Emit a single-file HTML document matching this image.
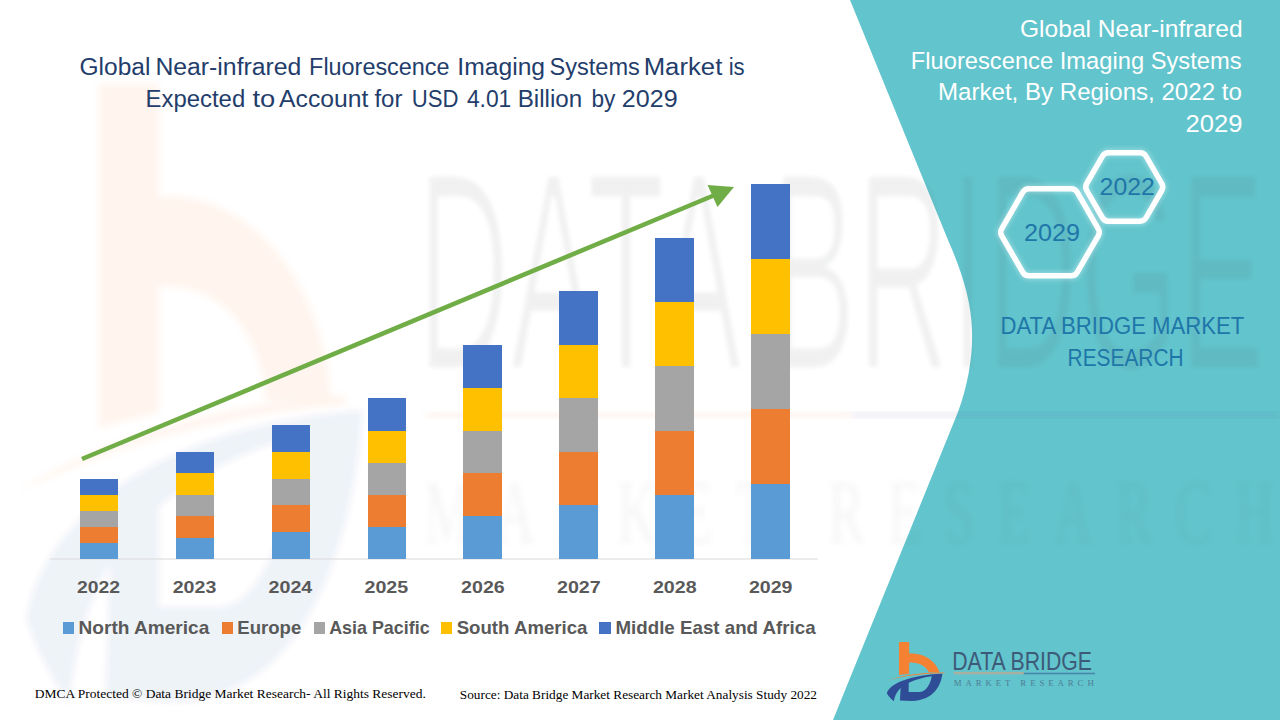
<!DOCTYPE html>
<html>
<head>
<meta charset="utf-8">
<title>Global Near-infrared Fluorescence Imaging Systems Market</title>
<style>
html,body{margin:0;padding:0;background:#fff;}
body{width:1280px;height:720px;overflow:hidden;position:relative;font-family:"Liberation Sans",sans-serif;}
svg{position:absolute;left:0;top:0;display:block;}
text{font-family:"Liberation Sans",sans-serif;}
.serif{font-family:"Liberation Serif",serif;}
.b{font-weight:bold;}
</style>
</head>
<body>
<svg width="1280" height="720" viewBox="0 0 1280 720">
  <defs>
    <filter id="blur6" x="-10%" y="-10%" width="120%" height="120%"><feGaussianBlur stdDeviation="5"/></filter>
    <filter id="blur2" x="-5%" y="-5%" width="110%" height="110%"><feGaussianBlur stdDeviation="2"/></filter>
    <filter id="blur3" x="-10%" y="-10%" width="120%" height="120%"><feGaussianBlur stdDeviation="3"/></filter>
    <filter id="thin" x="-5%" y="-5%" width="110%" height="110%"><feMorphology operator="erode" radius="1.6 1.2"/><feGaussianBlur stdDeviation="2.2"/></filter>
    <filter id="glow" x="-20%" y="-20%" width="140%" height="140%"><feGaussianBlur stdDeviation="2.2"/></filter>

    <g id="icon-o" transform="translate(880,636) scale(0.097222)">
      <path fill="#f58233" d="M195,62 L300,62 L300,180 C420,175 560,225 615,378 L500,374 C480,312 400,268 300,272 L300,388 L195,400 Z"/>
      <path fill="#f58233" d="M78,460 C200,402 450,372 662,375 L662,384 C450,386 220,412 78,460 Z"/>
    </g>
    <g id="icon-b" transform="translate(880,636) scale(0.097222)">
      <path fill="#2f4d96" fill-rule="evenodd" d="M70,588 C100,490 300,402 642,388 C628,500 560,660 330,668 L205,664 L212,535 C180,565 152,612 142,670 C110,642 84,614 70,588 Z M295,480 C380,442 460,422 532,413 C522,482 482,572 400,577 L295,577 Z"/>
    </g>
    <g id="logotext">
      <text x="952.2" y="669.9" font-size="25.4" textLength="139.8" lengthAdjust="spacingAndGlyphs" fill="#3d5a78">DATA BRIDGE</text>
      <rect x="953.7" y="671.9" width="70.2" height="2.4" fill="#a9b09f"/>
      <rect x="1023.8" y="672.7" width="71.2" height="1.6" fill="#4a86aa"/>
      <text class="serif" x="953.75" y="686.3" font-size="8.8" textLength="140" lengthAdjust="spacing" fill="#4e7e96">MARKET  RESEARCH</text>
    </g>
  </defs>

  <!-- ===== teal panel ===== -->
  <path id="panel" d="M850,0 L1280,0 L1280,720 L833,720 L958,412 C968,385 973,355 972,330 C971,300 962,272 948,240 Z" fill="#62c4cc"/>


  <!-- ===== watermark (stretched logo, very faint) ===== -->
  <g id="watermark">
    <g filter="url(#blur3)">
      <g fill="#f58233" opacity="0.085">
        <path d="M99,84 L159,84 L159,197 C245,190 322,275 331,398 L266,402 C262,332 222,284 159,286 L159,412 L99,428 Z"/>
        <path d="M18,492 C100,438 230,402 345,396 L345,405 C230,412 110,446 18,492 Z"/>
      </g>
      <g transform="matrix(6.04,0,0,10.7,-5329.7,-6798.3)"><use href="#icon-b" opacity="0.065"/></g>
    </g>
    <g opacity="0.08" fill="#4b5058" filter="url(#thin)">
      <text transform="translate(417,368) scale(1,1.86)" x="0" y="0" font-size="150" textLength="848" lengthAdjust="spacingAndGlyphs">DATA BRIDGE</text>
    </g>
    <g opacity="0.05" fill="#4b5058" filter="url(#blur3)">
      <text class="serif" transform="translate(424,543) scale(1,1.7)" x="0" y="0" font-size="54" textLength="850" lengthAdjust="spacing">MARKET  RESEARCH</text>
    </g>
    <g filter="url(#blur3)">
    <rect x="427" y="412" width="425" height="6" fill="#f58233" opacity="0.09"/>
    <rect x="852" y="412" width="428" height="6" fill="#2f4d96" opacity="0.10"/>
    </g>
  </g>

  <!-- ===== axis line ===== -->
  <rect x="50" y="558.5" width="768" height="1" fill="#d9d9d9"/>

  <!-- ===== bars ===== -->
  <g id="bars" shape-rendering="crispEdges">
    <!-- 2022 -->
    <rect x="80" y="479" width="38" height="16" fill="#4472c4"/>
    <rect x="80" y="495" width="38" height="16" fill="#ffc000"/>
    <rect x="80" y="511" width="38" height="16" fill="#a5a5a5"/>
    <rect x="80" y="527" width="38" height="16" fill="#ed7d31"/>
    <rect x="80" y="543" width="38" height="16" fill="#5b9bd5"/>
    <!-- 2023 -->
    <rect x="176" y="452" width="38" height="21" fill="#4472c4"/>
    <rect x="176" y="473" width="38" height="22" fill="#ffc000"/>
    <rect x="176" y="495" width="38" height="21" fill="#a5a5a5"/>
    <rect x="176" y="516" width="38" height="22" fill="#ed7d31"/>
    <rect x="176" y="538" width="38" height="21" fill="#5b9bd5"/>
    <!-- 2024 -->
    <rect x="272" y="425" width="38" height="27" fill="#4472c4"/>
    <rect x="272" y="452" width="38" height="27" fill="#ffc000"/>
    <rect x="272" y="479" width="38" height="26" fill="#a5a5a5"/>
    <rect x="272" y="505" width="38" height="27" fill="#ed7d31"/>
    <rect x="272" y="532" width="38" height="27" fill="#5b9bd5"/>
    <!-- 2025 -->
    <rect x="368" y="398" width="38" height="33" fill="#4472c4"/>
    <rect x="368" y="431" width="38" height="32" fill="#ffc000"/>
    <rect x="368" y="463" width="38" height="32" fill="#a5a5a5"/>
    <rect x="368" y="495" width="38" height="32" fill="#ed7d31"/>
    <rect x="368" y="527" width="38" height="32" fill="#5b9bd5"/>
    <!-- 2026 -->
    <rect x="463" y="345" width="39" height="43" fill="#4472c4"/>
    <rect x="463" y="388" width="39" height="43" fill="#ffc000"/>
    <rect x="463" y="431" width="39" height="42" fill="#a5a5a5"/>
    <rect x="463" y="473" width="39" height="43" fill="#ed7d31"/>
    <rect x="463" y="516" width="39" height="43" fill="#5b9bd5"/>
    <!-- 2027 -->
    <rect x="559" y="291" width="39" height="54" fill="#4472c4"/>
    <rect x="559" y="345" width="39" height="53" fill="#ffc000"/>
    <rect x="559" y="398" width="39" height="54" fill="#a5a5a5"/>
    <rect x="559" y="452" width="39" height="53" fill="#ed7d31"/>
    <rect x="559" y="505" width="39" height="54" fill="#5b9bd5"/>
    <!-- 2028 -->
    <rect x="655" y="238" width="39" height="64" fill="#4472c4"/>
    <rect x="655" y="302" width="39" height="64" fill="#ffc000"/>
    <rect x="655" y="366" width="39" height="65" fill="#a5a5a5"/>
    <rect x="655" y="431" width="39" height="64" fill="#ed7d31"/>
    <rect x="655" y="495" width="39" height="64" fill="#5b9bd5"/>
    <!-- 2029 -->
    <rect x="751" y="184" width="39" height="75" fill="#4472c4"/>
    <rect x="751" y="259" width="39" height="75" fill="#ffc000"/>
    <rect x="751" y="334" width="39" height="75" fill="#a5a5a5"/>
    <rect x="751" y="409" width="39" height="75" fill="#ed7d31"/>
    <rect x="751" y="484" width="39" height="75" fill="#5b9bd5"/>
  </g>

  <!-- ===== arrow ===== -->
  <g id="arrow">
    <line x1="82" y1="459" x2="716" y2="194.5" stroke="#70ad47" stroke-width="4.6"/>
    <polygon points="734,187 707.5,185 717.5,207" fill="#70ad47"/>
  </g>

  <!-- ===== title ===== -->
  <g fill="#233d6b" font-size="24.7">
    <text x="79.5" y="75.0" textLength="70.9" lengthAdjust="spacingAndGlyphs">Global</text>
    <text x="155.4" y="75.0" textLength="146.0" lengthAdjust="spacingAndGlyphs">Near-infrared</text>
    <text x="309.1" y="75.0" textLength="140.4" lengthAdjust="spacingAndGlyphs">Fluorescence</text>
    <text x="457.3" y="75.0" textLength="87.8" lengthAdjust="spacingAndGlyphs">Imaging</text>
    <text x="549.5" y="75.0" textLength="90.4" lengthAdjust="spacingAndGlyphs">Systems</text>
    <text x="643.7" y="75.0" textLength="78.6" lengthAdjust="spacingAndGlyphs">Market</text>
    <text x="728.7" y="75.0" textLength="16.0" lengthAdjust="spacingAndGlyphs">is</text>
    <text x="145.6" y="107.3" textLength="99.6" lengthAdjust="spacingAndGlyphs">Expected</text>
    <text x="252.5" y="107.3" textLength="22.8" lengthAdjust="spacingAndGlyphs">to</text>
    <text x="279.1" y="107.3" textLength="89.2" lengthAdjust="spacingAndGlyphs">Account</text>
    <text x="374.4" y="107.3" textLength="28.0" lengthAdjust="spacingAndGlyphs">for</text>
    <text x="411.7" y="107.3" textLength="46.8" lengthAdjust="spacingAndGlyphs">USD</text>
    <text x="466.9" y="107.3" textLength="44.4" lengthAdjust="spacingAndGlyphs">4.01</text>
    <text x="517.7" y="107.3" textLength="64.5" lengthAdjust="spacingAndGlyphs">Billion</text>
    <text x="591.5" y="107.3" textLength="23.9" lengthAdjust="spacingAndGlyphs">by</text>
    <text x="621.8" y="107.3" textLength="55.8" lengthAdjust="spacingAndGlyphs">2029</text>
  </g>

  <!-- ===== right title ===== -->
  <g fill="#ffffff" font-size="23.7">
    <text x="1020" y="36.5" textLength="222.6" lengthAdjust="spacingAndGlyphs">Global Near-infrared</text>
    <text x="910.8" y="69" textLength="330.8" lengthAdjust="spacingAndGlyphs">Fluorescence Imaging Systems</text>
    <text x="938" y="100.4" textLength="303.8" lengthAdjust="spacingAndGlyphs">Market, By Regions, 2022 to</text>
    <text x="1185.6" y="131.8" textLength="57" lengthAdjust="spacingAndGlyphs">2029</text>
  </g>

  <!-- ===== hexagons ===== -->
  <g fill="none" stroke="#e8ffff" stroke-linejoin="round" opacity="0.32" filter="url(#glow)">
    <path d="M1098.28,228.80 A7.00,7.00 0 0 1 1098.28,235.80 L1077.17,272.36 A7.00,7.00 0 0 1 1071.11,275.86 L1028.89,275.86 A7.00,7.00 0 0 1 1022.83,272.36 L1001.72,235.80 A7.00,7.00 0 0 1 1001.72,228.80 L1022.83,192.24 A7.00,7.00 0 0 1 1028.89,188.74 L1071.11,188.74 A7.00,7.00 0 0 1 1077.17,192.24 Z" stroke-width="9"/>
    <path d="M1161.78,183.50 A7.00,7.00 0 0 1 1161.78,190.50 L1146.05,217.75 A7.00,7.00 0 0 1 1139.98,221.25 L1108.52,221.25 A7.00,7.00 0 0 1 1102.45,217.75 L1086.72,190.50 A7.00,7.00 0 0 1 1086.72,183.50 L1102.45,156.25 A7.00,7.00 0 0 1 1108.52,152.75 L1139.98,152.75 A7.00,7.00 0 0 1 1146.05,156.25 Z" stroke-width="9"/>
  </g>
  <g fill="none" stroke="#ffffff" stroke-linejoin="round">
    <path d="M1098.28,228.80 A7.00,7.00 0 0 1 1098.28,235.80 L1077.17,272.36 A7.00,7.00 0 0 1 1071.11,275.86 L1028.89,275.86 A7.00,7.00 0 0 1 1022.83,272.36 L1001.72,235.80 A7.00,7.00 0 0 1 1001.72,228.80 L1022.83,192.24 A7.00,7.00 0 0 1 1028.89,188.74 L1071.11,188.74 A7.00,7.00 0 0 1 1077.17,192.24 Z" stroke-width="5.5"/>
    <path d="M1161.78,183.50 A7.00,7.00 0 0 1 1161.78,190.50 L1146.05,217.75 A7.00,7.00 0 0 1 1139.98,221.25 L1108.52,221.25 A7.00,7.00 0 0 1 1102.45,217.75 L1086.72,190.50 A7.00,7.00 0 0 1 1086.72,183.50 L1102.45,156.25 A7.00,7.00 0 0 1 1108.52,152.75 L1139.98,152.75 A7.00,7.00 0 0 1 1146.05,156.25 Z" stroke-width="5.5"/>
  </g>
  <g fill="#1f76a9" font-size="24.4">
    <text x="1099.6" y="195.4" textLength="55.2" lengthAdjust="spacingAndGlyphs">2022</text>
    <text x="1024" y="240.8" textLength="56" lengthAdjust="spacingAndGlyphs">2029</text>
  </g>
  <g fill="#1f76a9" font-size="24.7">
    <text x="1000.4" y="334.3" textLength="244" lengthAdjust="spacingAndGlyphs">DATA BRIDGE MARKET</text>
    <text x="1067.6" y="365.7" textLength="116" lengthAdjust="spacingAndGlyphs">RESEARCH</text>
  </g>

  <!-- ===== year labels ===== -->
  <g fill="#595959" font-size="17" class="b">
    <text x="77.0" y="592.8" textLength="43.0" lengthAdjust="spacingAndGlyphs">2022</text>
    <text x="172.7" y="592.8" textLength="43.6" lengthAdjust="spacingAndGlyphs">2023</text>
    <text x="268.6" y="592.8" textLength="43.7" lengthAdjust="spacingAndGlyphs">2024</text>
    <text x="364.5" y="592.8" textLength="43.7" lengthAdjust="spacingAndGlyphs">2025</text>
    <text x="461.1" y="592.8" textLength="43.6" lengthAdjust="spacingAndGlyphs">2026</text>
    <text x="557.0" y="592.8" textLength="43.7" lengthAdjust="spacingAndGlyphs">2027</text>
    <text x="652.9" y="592.8" textLength="43.7" lengthAdjust="spacingAndGlyphs">2028</text>
    <text x="748.9" y="592.8" textLength="43.6" lengthAdjust="spacingAndGlyphs">2029</text>
  </g>

  <!-- ===== legend ===== -->
  <g shape-rendering="crispEdges">
    <rect x="62.5" y="622" width="11.5" height="11.5" fill="#5b9bd5"/>
    <rect x="221.5" y="622" width="11.5" height="11.5" fill="#ed7d31"/>
    <rect x="313.5" y="622" width="11.5" height="11.5" fill="#a5a5a5"/>
    <rect x="440.5" y="622" width="11.5" height="11.5" fill="#ffc000"/>
    <rect x="599" y="622" width="11.5" height="11.5" fill="#4472c4"/>
  </g>
  <g fill="#595959" font-size="18.2" class="b">
    <text x="78.6" y="634.1" textLength="130.7" lengthAdjust="spacingAndGlyphs">North America</text>
    <text x="237.3" y="634.1" textLength="63.9" lengthAdjust="spacingAndGlyphs">Europe</text>
    <text x="329.2" y="634.1" textLength="100.4" lengthAdjust="spacingAndGlyphs">Asia Pacific</text>
    <text x="456.7" y="634.1" textLength="130.8" lengthAdjust="spacingAndGlyphs">South America</text>
    <text x="615.5" y="634.1" textLength="200.1" lengthAdjust="spacingAndGlyphs">Middle East and Africa</text>
  </g>

  <!-- ===== footer ===== -->
  <g fill="#000000" font-size="13" class="serif">
    <text class="serif" x="34.8" y="697.9" textLength="391" lengthAdjust="spacingAndGlyphs">DMCA Protected © Data Bridge Market Research- All Rights Reserved.</text>
    <text class="serif" x="459.8" y="698.9" textLength="357.2" lengthAdjust="spacingAndGlyphs">Source: Data Bridge Market Research Market Analysis Study 2022</text>
  </g>

  <!-- ===== small logo ===== -->
  <g id="smalllogo">
    <use href="#icon-o"/>
    <use href="#icon-b"/>
    <use href="#logotext"/>
  </g>
</svg>
</body>
</html>
